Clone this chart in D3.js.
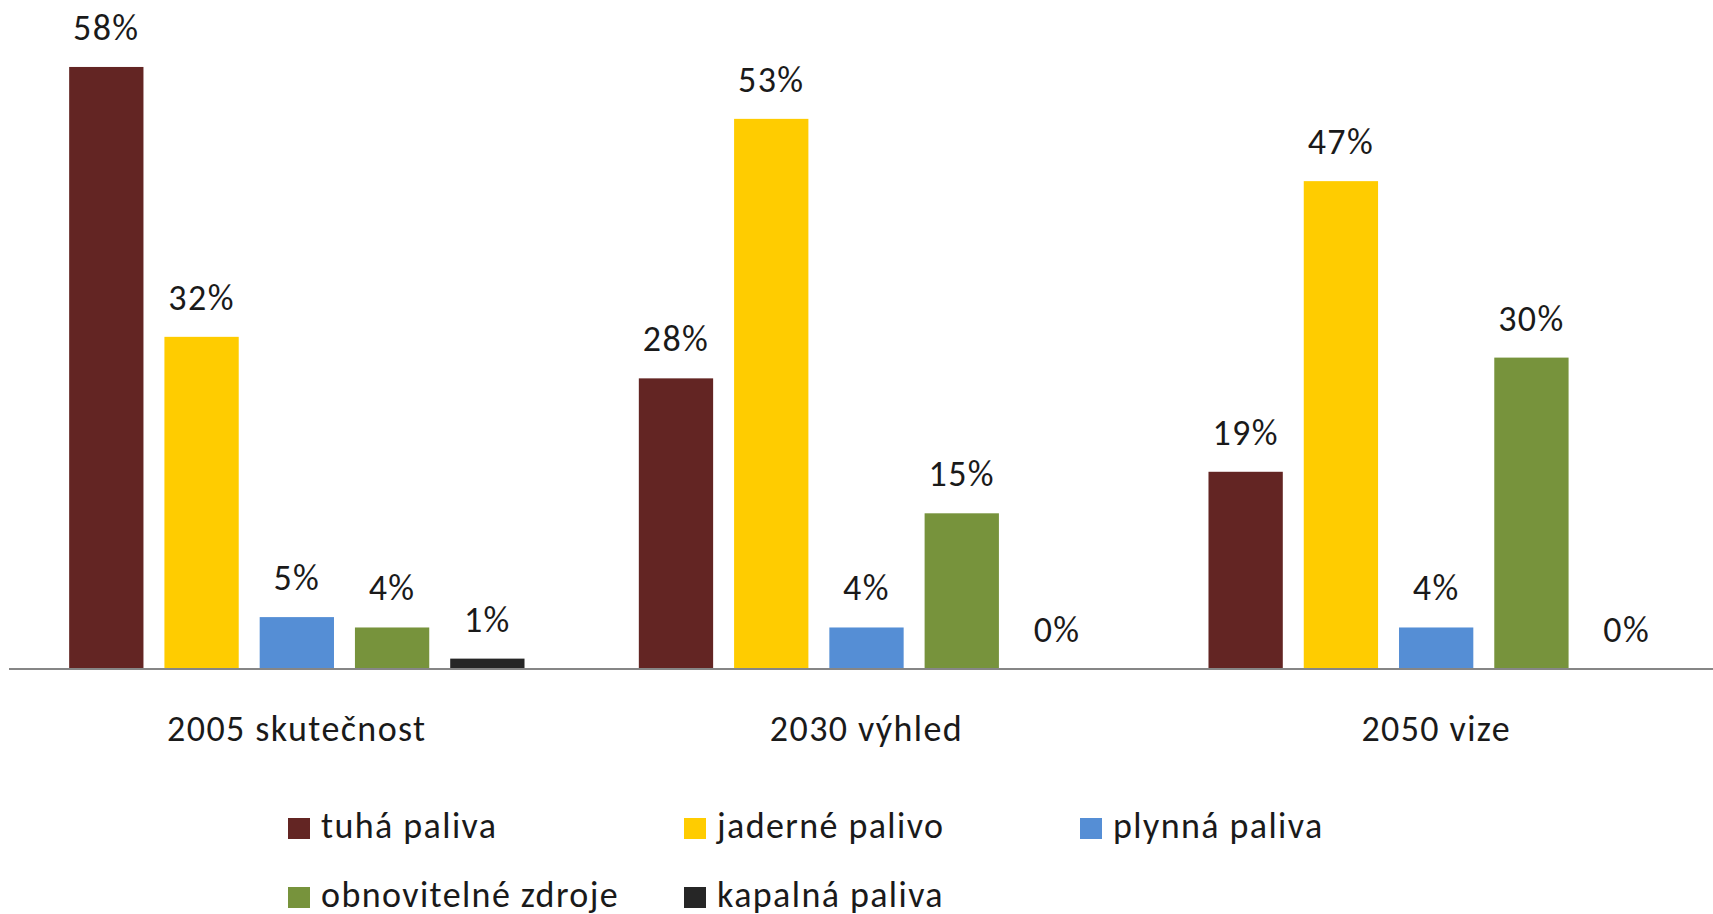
<!DOCTYPE html>
<html>
<head>
<meta charset="utf-8">
<script src="https://cdn.jsdelivr.net/npm/d3@7"></script>
<style>
  body { margin: 0; background: #fff; }
  svg { display: block; font-family: Carlito, Calibri, Lato, sans-serif; font-weight: 300; }
</style>
</head>
<body>
<svg id="viz" width="1713" height="914"></svg>
<script>
// categories (x axis groups)
const groups = ["2005 skutečnost", "2030 výhled", "2050 vize"];
// series names, in legend order
const series = ["tuhá paliva", "jaderné palivo", "plynná paliva", "obnovitelné zdroje", "kapalná paliva"];
const colors = ["#632523", "#FFCC00", "#558ED5", "#77933C", "#262626"];
// values per series, one per group
const tuha = [0.58, 0.28, 0.19];
const jaderne = [0.32, 0.53, 0.47];
const plynna = [0.05, 0.04, 0.04];
const obnovitelne = [0.04, 0.15, 0.30];
const kapalna = [0.01, 0.00, 0.00];

const values = [tuha, jaderne, plynna, obnovitelne, kapalna];

const svg = d3.select("#viz");
const fontSize = 36;
const spacing = "1.4px";

const x0 = d3.scaleBand()
    .domain(groups)
    .range([12, 1721])
    .paddingInner(0)
    .paddingOuter(0);

const x1 = d3.scaleBand()
    .domain(series)
    .range([0, x0.bandwidth()])
    .paddingInner(0.22)
    .paddingOuter(0.6);

const y = d3.scaleLinear()
    .domain([0, 0.6])
    .range([669, 669 - 0.6 * 1038]);

const fmt = d3.format(".0%");

// flat list of bars
const bars = [];
groups.forEach((g, gi) => {
    series.forEach((s, si) => {
        bars.push({group: g, series: s, value: values[si][gi], color: colors[si]});
    });
});

svg.selectAll(".bar")
    .data(bars)
    .enter()
    .append("rect")
    .attr("class", "bar")
    .attr("x", d => x0(d.group) + x1(d.series))
    .attr("y", d => y(d.value))
    .attr("width", x1.bandwidth())
    .attr("height", d => y(0) - y(d.value))
    .style("fill", d => d.color);

svg.selectAll(".label")
    .data(bars)
    .enter()
    .append("text")
    .attr("class", "label")
    .attr("x", d => x0(d.group) + x1(d.series) + x1.bandwidth() / 2)
    .attr("y", d => y(d.value) - 27)
    .attr("text-anchor", "middle")
    .style("font-size", fontSize + "px")
    .style("letter-spacing", spacing)
    .style("fill", "#1a1a1a")
    .text(d => fmt(d.value));

// category axis
const xAxis = svg.append("g")
    .attr("transform", `translate(0,${y(0)})`)
    .call(d3.axisBottom(x0).tickSize(0).tickPadding(0));
xAxis.select(".domain").remove();
xAxis.append("line")
    .attr("x1", 9).attr("x2", 1713)
    .attr("y1", 0).attr("y2", 0)
    .style("stroke", "#868686")
    .style("stroke-width", 2);
xAxis.selectAll(".tick text")
    .attr("y", 72)
    .attr("dy", null)
    .style("font-family", "Carlito, Calibri, Lato, sans-serif")
    .style("font-weight", 300)
    .style("font-size", fontSize + "px")
    .style("letter-spacing", spacing)
    .style("fill", "#1a1a1a");

// legend, 3 columns
const legend = svg.append("g");
const legendItems = legend.selectAll(".leg")
    .data(series)
    .enter()
    .append("g")
    .attr("class", "leg")
    .attr("transform", (d, i) => `translate(${288 + (i % 3) * 396},${818 + Math.floor(i / 3) * 69})`);

legendItems.append("rect")
    .attr("width", 22)
    .attr("height", 21)
    .style("fill", (d, i) => colors[i]);

legendItems.append("text")
    .attr("x", 33)
    .attr("y", 20)
    .style("font-size", fontSize + "px")
    .style("letter-spacing", spacing)
    .style("fill", "#1a1a1a")
    .text(d => d);
</script>
</body>
</html>
